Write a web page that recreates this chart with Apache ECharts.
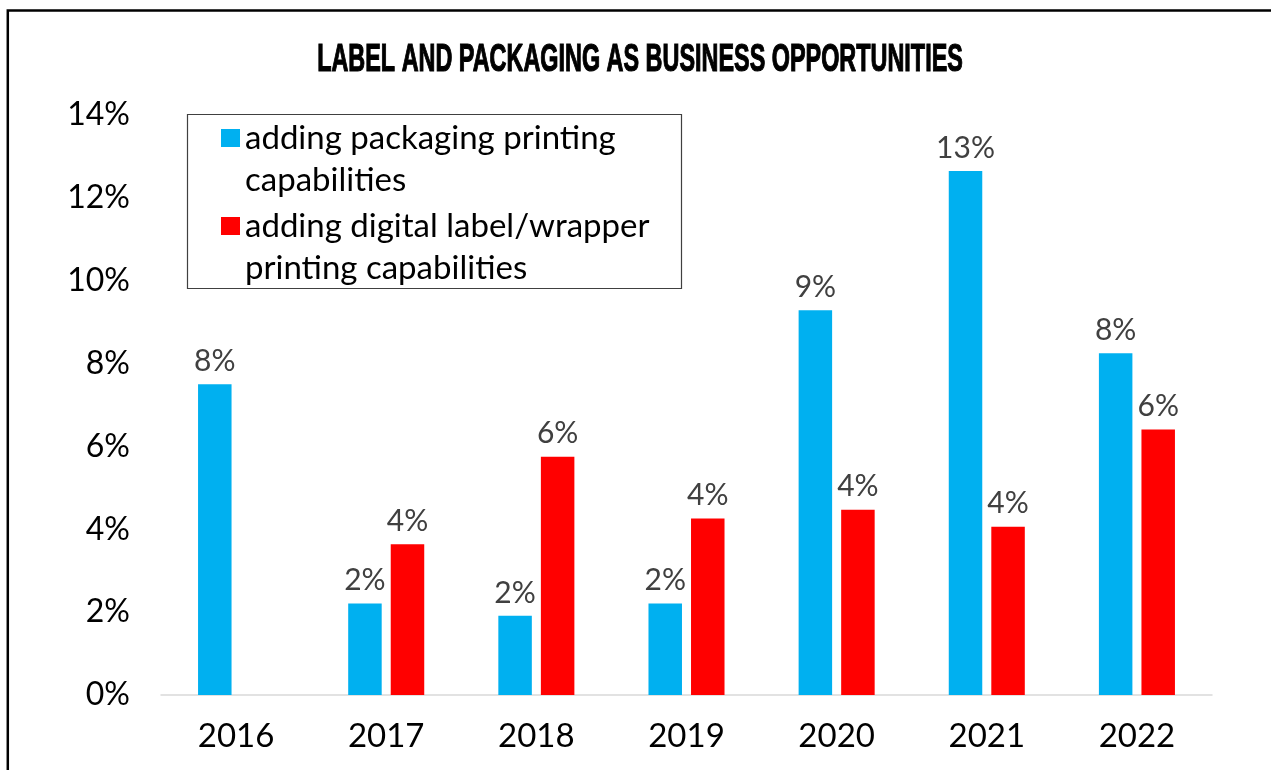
<!DOCTYPE html>
<html>
<head>
<meta charset="utf-8">
<script src="https://cdn.jsdelivr.net/npm/echarts@6/dist/echarts.min.js"></script>
<style>
  html, body { margin: 0; padding: 0; background: #fff; }
  #chart { width: 1271px; height: 770px; }
</style>
</head>
<body>
<div id="chart"></div>
<script>
// Share of respondents naming each opportunity, in percent
const chartTitle = 'LABEL AND PACKAGING AS BUSINESS OPPORTUNITIES';
const years = ['2016', '2017', '2018', '2019', '2020', '2021', '2022'];
const seriesNames = [
  'adding packaging printing\ncapabilities',
  'adding digital label/wrapper\nprinting capabilities'
];
const packagingPrinting = [7.5, 2.21, 1.91, 2.21, 9.29, 12.65, 8.25];
const digitalLabelPrinting = [null, 3.64, 5.75, 4.26, 4.47, 4.06, 6.41];
const yAxisMin = 0;
const yAxisMax = 14;
const yAxisStep = 2;

const BLUE = '#00B0F0';
const RED = '#FF0000';
const FONT = 'Lato';

const chart = echarts.init(document.getElementById('chart'), null, { renderer: 'canvas' });

const valueLabel = {
  show: true,
  position: 'top',
  distance: 8,
  fontFamily: FONT,
  fontSize: 30,
  color: '#404040',
  formatter: p => (p.value == null ? '' : Math.round(p.value) + '%')
};

chart.setOption({
  backgroundColor: '#fff',
  animation: false,
  graphic: [
    // outer frame
    {
      type: 'rect',
      silent: true,
      shape: { x: 7.8, y: 10.6, width: 1400, height: 1000 },
      style: { fill: 'none', stroke: '#000', lineWidth: 2.5 }
    },
    // condensed heading
    {
      type: 'text',
      silent: true,
      x: 640,
      y: 60,
      scaleX: 0.6,
      style: {
        text: chartTitle,
        font: 'bold 39px "Liberation Sans", Arial, sans-serif',
        fill: '#000',
        stroke: '#000',
        lineWidth: 1.2,
        align: 'center',
        verticalAlign: 'middle'
      }
    },
    // legend frame
    {
      type: 'rect',
      silent: true,
      z: 10,
      shape: { x: 187.5, y: 114.5, width: 494, height: 174 },
      style: { fill: 'none', stroke: '#404040', lineWidth: 1.2 }
    }
  ],
  legend: {
    orient: 'vertical',
    left: 221,
    top: 75,
    padding: 0,
    itemWidth: 19,
    itemHeight: 18,
    itemGap: -38,
    icon: 'rect',
    selectedMode: false,
    // a leading blank line keeps the first text line level with the swatch
    formatter: name => '\n' + name,
    textStyle: {
      fontFamily: FONT,
      fontSize: 33,
      lineHeight: 42,
      color: '#000'
    },
    data: seriesNames
  },
  grid: {
    left: 161,
    right: 59,
    top: 115,
    bottom: 75,
    containLabel: false
  },
  xAxis: {
    type: 'category',
    data: years,
    axisLine: { show: true, lineStyle: { color: '#d9d9d9', width: 1.5 } },
    axisTick: { show: false },
    axisLabel: {
      fontFamily: FONT,
      fontSize: 33,
      color: '#000',
      margin: 25
    }
  },
  yAxis: {
    type: 'value',
    min: yAxisMin,
    max: yAxisMax,
    interval: yAxisStep,
    axisLine: { show: false },
    axisTick: { show: false },
    splitLine: { show: false },
    axisLabel: {
      fontFamily: FONT,
      fontSize: 32,
      color: '#000',
      margin: 31,
      formatter: '{value}%'
    }
  },
  series: [
    {
      name: seriesNames[0],
      type: 'bar',
      data: packagingPrinting,
      barWidth: 33.5,
      barGap: '27%',
      itemStyle: { color: BLUE },
      label: valueLabel
    },
    {
      name: seriesNames[1],
      type: 'bar',
      data: digitalLabelPrinting,
      barWidth: 33.5,
      barGap: '27%',
      itemStyle: { color: RED },
      label: valueLabel
    }
  ]
});
</script>
</body>
</html>
